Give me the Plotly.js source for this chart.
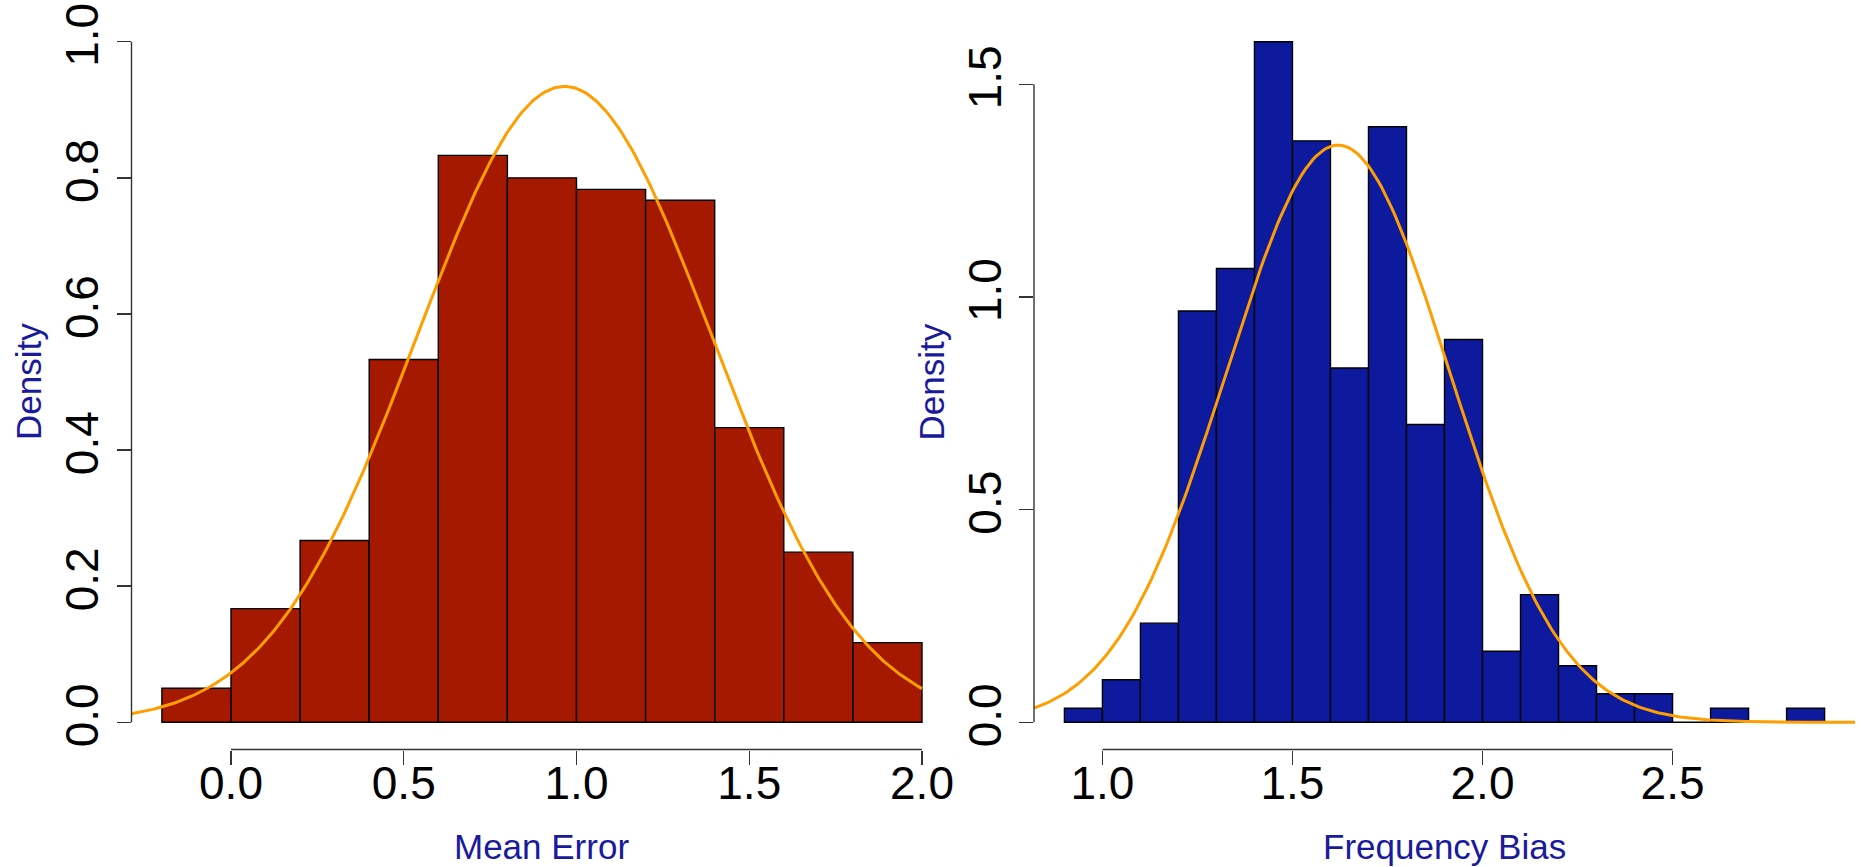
<!DOCTYPE html>
<html><head><meta charset="utf-8">
<script src="https://cdn.plot.ly/plotly-3.0.1.min.js"></script>
<style>html,body{margin:0;padding:0;background:#fff;} #chart{width:1863px;height:867px;}</style>
</head><body><div id="chart"></div>
<script>
// ---- data ----
const meanErrorBinStart = [-0.2, 0.0, 0.2, 0.4, 0.6, 0.8, 1.0, 1.2, 1.4, 1.6, 1.8];
const meanErrorDensity  = [0.050, 0.167, 0.267, 0.533, 0.833, 0.800, 0.783, 0.767, 0.433, 0.250, 0.117];
const meanErrorBinWidth = 0.2;
const meanErrorFitMean = 0.965;
const meanErrorFitSd = 0.427;
const meanErrorCurveEnd = 2.0;

const freqBiasBinStart = [0.9, 1.0, 1.1, 1.2, 1.3, 1.4, 1.5, 1.6, 1.7, 1.8, 1.9, 2.0, 2.1, 2.2, 2.3, 2.4, 2.5, 2.6, 2.7, 2.8];
const freqBiasDensity  = [0.033, 0.100, 0.233, 0.967, 1.067, 1.600, 1.367, 0.833, 1.400, 0.700, 0.900, 0.167, 0.300, 0.133, 0.067, 0.067, 0.000, 0.033, 0.000, 0.033];
const freqBiasBinWidth = 0.1;
const freqBiasFitMean = 1.62;
const freqBiasFitSd = 0.294;

const meanErrorXTicks = [0.0, 0.5, 1.0, 1.5, 2.0];
const meanErrorXTickText = ['0.0', '0.5', '1.0', '1.5', '2.0'];
const meanErrorYTicks = [0.0, 0.2, 0.4, 0.6, 0.8, 1.0];
const meanErrorYTickText = ['0.0', '0.2', '0.4', '0.6', '0.8', '1.0'];
const meanErrorYLimTop = 1.0;

const freqBiasXTicks = [1.0, 1.5, 2.0, 2.5];
const freqBiasXTickText = ['1.0', '1.5', '2.0', '2.5'];
const freqBiasYTicks = [0.0, 0.5, 1.0, 1.5];
const freqBiasYTickText = ['0.0', '0.5', '1.0', '1.5'];

const xTitleLeft = 'Mean Error';
const xTitleRight = 'Frequency Bias';
const yTitle = 'Density';

// ---- styles ----
const redFill = '#A51900';
const blueFill = '#0E1A9E';
const curveColor = '#FF9E00';
const titleColor = '#1A1A9C';
const axisColor = '#333333';
const FONT = 'Liberation Sans, Arial, Helvetica, sans-serif';

function ext(lo, hi) { const d = (hi - lo) * 0.04; return [lo - d, hi + d]; }
function dnorm(x, m, s) { return Math.exp(-0.5 * ((x - m) / s) ** 2) / (s * Math.sqrt(2 * Math.PI)); }
function curvePts(lo, hi, m, s) {
  const xs = [], ys = [];
  const n = 300;
  for (let i = 0; i <= n; i++) { const x = lo + (hi - lo) * i / n; xs.push(x); ys.push(dnorm(x, m, s)); }
  return {xs, ys};
}

const meX = ext(meanErrorBinStart[0], meanErrorBinStart[meanErrorBinStart.length - 1] + meanErrorBinWidth);
const meY = ext(0, meanErrorYLimTop);
const fbX = ext(freqBiasBinStart[0], freqBiasBinStart[freqBiasBinStart.length - 1] + freqBiasBinWidth);
const fbY = ext(0, Math.max(...freqBiasDensity));

const meC = curvePts(meX[0], meanErrorCurveEnd, meanErrorFitMean, meanErrorFitSd);
const fbC = curvePts(fbX[0], fbX[1], freqBiasFitMean, freqBiasFitSd);

const traces = [
  {type: 'bar', x: meanErrorBinStart, y: meanErrorDensity, width: meanErrorBinWidth, offset: 0,
   marker: {color: redFill, line: {color: '#000', width: 1.4}}, xaxis: 'x', yaxis: 'y', hoverinfo: 'skip', showlegend: false},
  {type: 'scatter', mode: 'lines', x: meC.xs, y: meC.ys, line: {color: curveColor, width: 3}, xaxis: 'x', yaxis: 'y', hoverinfo: 'skip', showlegend: false},
  {type: 'bar', x: freqBiasBinStart, y: freqBiasDensity, width: freqBiasBinWidth, offset: 0,
   marker: {color: blueFill, line: {color: '#000', width: 1.4}}, xaxis: 'x2', yaxis: 'y2', hoverinfo: 'skip', showlegend: false},
  {type: 'scatter', mode: 'lines', x: fbC.xs, y: fbC.ys, line: {color: curveColor, width: 3}, xaxis: 'x2', yaxis: 'y2', hoverinfo: 'skip', showlegend: false}
];

const W = 1863, H = 867;
const leftDom = [131.5 / W, 952.4 / W];
const rightDom = [1034 / W, 1855 / W];
const yDom = [(H - 749.5) / H, (H - 14.5) / H];

const tickFont = {family: FONT, size: 46, color: '#000'};
function xAxis(dom, range, vals, text, anchor) {
  return {domain: dom, range: range, anchor: anchor, tickmode: 'array', tickvals: vals, ticktext: text,
    ticks: 'outside', ticklen: 14, tickwidth: 1.4, tickcolor: axisColor, showline: false, showgrid: false, zeroline: false,
    tickfont: tickFont, fixedrange: true, ticklabelstandoff: -21};
}
function yAxis(range, vals, text, anchor) {
  return {domain: yDom, range: range, anchor: anchor, tickmode: 'array', tickvals: vals, ticktext: text, tickangle: -90,
    ticks: 'outside', ticklen: 14, tickwidth: 1.4, tickcolor: axisColor, showline: false, showgrid: false, zeroline: false,
    tickfont: tickFont, fixedrange: true, ticklabelstandoff: 0};
}

function axisLines(xr, yr, xTicks, yTicks) {
  return [
    {type: 'line', xref: xr, yref: yr + ' domain', x0: xTicks[0], x1: xTicks[xTicks.length - 1], y0: 0, y1: 0, line: {color: axisColor, width: 1.4}},
    {type: 'line', xref: xr + ' domain', yref: yr, x0: 0, x1: 0, y0: yTicks[0], y1: yTicks[yTicks.length - 1], line: {color: axisColor, width: 1.4}}
  ];
}

const titleFont = {family: FONT, size: 35, color: titleColor};
const annotations = [
  {text: xTitleLeft, xref: 'x domain', x: 0.5, yref: 'paper', y: (H - 846) / H, xanchor: 'center', yanchor: 'middle', showarrow: false, font: titleFont},
  {text: xTitleRight, xref: 'x2 domain', x: 0.5, yref: 'paper', y: (H - 846) / H, xanchor: 'center', yanchor: 'middle', showarrow: false, font: titleFont},
  {text: yTitle, xref: 'paper', x: 29 / W, yref: 'y domain', y: 0.5, xanchor: 'center', yanchor: 'middle', textangle: -90, showarrow: false, font: titleFont},
  {text: yTitle, xref: 'paper', x: 931.5 / W, yref: 'y2 domain', y: 0.5, xanchor: 'center', yanchor: 'middle', textangle: -90, showarrow: false, font: titleFont}
];

const layout = {
  width: W, height: H, margin: {l: 0, r: 0, t: 0, b: 0},
  paper_bgcolor: '#fff', plot_bgcolor: '#fff', showlegend: false, barmode: 'overlay',
  xaxis: xAxis(leftDom, meX, meanErrorXTicks, meanErrorXTickText, 'y'),
  yaxis: yAxis(meY, meanErrorYTicks, meanErrorYTickText, 'x'),
  xaxis2: xAxis(rightDom, fbX, freqBiasXTicks, freqBiasXTickText, 'y2'),
  yaxis2: yAxis(fbY, freqBiasYTicks, freqBiasYTickText, 'x2'),
  shapes: axisLines('x', 'y', meanErrorXTicks, meanErrorYTicks).concat(axisLines('x2', 'y2', freqBiasXTicks, freqBiasYTicks)),
  annotations: annotations
};

Plotly.newPlot('chart', traces, layout, {displayModeBar: false, staticPlot: true});
</script></body></html>
